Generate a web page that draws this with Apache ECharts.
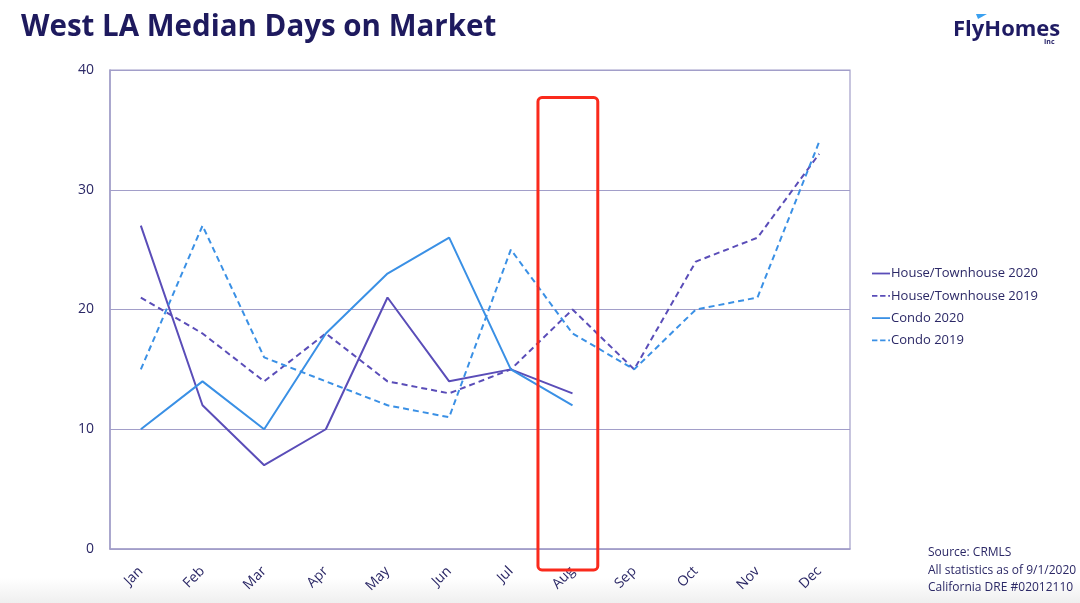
<!DOCTYPE html>
<html><head><meta charset="utf-8">
<script src="https://cdn.jsdelivr.net/npm/echarts@6/dist/echarts.min.js"></script>
<style>html,body{margin:0;padding:0;background:#fff}#c{width:1080px;height:603px}</style>
</head><body><div id="c"></div>
<script>
const months = ['Jan','Feb','Mar','Apr','May','Jun','Jul','Aug','Sep','Oct','Nov','Dec'];
const house2020 = [27,12,7,10,21,14,15,13];
const house2019 = [21,18,14,18,14,13,15,20,15,24,26,33];
const condo2020 = [10,14,10,18,23,26,15,12];
const condo2019 = [15,27,16,14,12,11,25,18,15,20,21,34];
const yTicks = [0,10,20,30,40];
const highlightMonth = 'Aug';

const purple = '#5a4db8';
const blue = '#3a90e5';
const navy = '#2b2866';
const gridC = '#a29ec9';

const solidIcon = 'path://M0,0H20V2H0Z';
const dashIcon = 'path://M0,0H6V2H0Z M9,0H15V2H9Z M18,0H20V2H18Z';

const chart = echarts.init(document.getElementById('c'));
function line(name, data, color, dashed){
  return {
    name, type:'line', data, showSymbol:false, symbol:'none',
    lineStyle:{color, width:2, type: dashed ? [6,4] : 'solid'},
    itemStyle:{color}
  };
}
chart.setOption({
  animation:false,
  title:{text:'West LA Median Days on Market', left:16, top:8,
    textStyle:{fontFamily:'Open Sans', fontWeight:'bold', fontSize:29.5, color:'#1e1a5e'}},
  legend:{orient:'vertical', left:867, top:262, itemGap:9.3, itemWidth:18, itemHeight:2,
    textStyle:{fontFamily:'Open Sans', fontSize:13, color:navy, padding:[0,0,0,-4]},
    data:[
      {name:'House/Townhouse 2020', icon:solidIcon, itemStyle:{color:purple}},
      {name:'House/Townhouse 2019', icon:dashIcon, itemStyle:{color:purple}},
      {name:'Condo 2020', icon:solidIcon, itemStyle:{color:blue}},
      {name:'Condo 2019', icon:dashIcon, itemStyle:{color:blue}}
    ]},
  grid:{left:110, right:230, top:70, bottom:54, show:true, borderColor:gridC, borderWidth:1.2},
  xAxis:{type:'category', data:months, boundaryGap:true,
    axisLine:{lineStyle:{color:gridC, width:1.5}}, axisTick:{show:false},
    axisLabel:{rotate:45, margin:20, fontFamily:'Open Sans', fontSize:14, color:navy}},
  yAxis:{type:'value', min:yTicks[0], max:yTicks[yTicks.length-1], interval:10,
    axisLine:{show:true, lineStyle:{color:gridC, width:1.5}}, axisTick:{show:false},
    axisLabel:{margin:16, fontFamily:'Open Sans', fontSize:14, color:navy},
    splitLine:{lineStyle:{color:gridC, width:1.2}}},
  series:[
    line('House/Townhouse 2020', house2020, purple, false),
    line('House/Townhouse 2019', house2019, purple, true),
    line('Condo 2020', condo2020, blue, false),
    line('Condo 2019', condo2019, blue, true)
  ]
});

// highlight box around the highlighted month, positioned through the axes
const cx = chart.convertToPixel({xAxisIndex:0}, highlightMonth);
const band = chart.convertToPixel({xAxisIndex:0}, months[1]) - chart.convertToPixel({xAxisIndex:0}, months[0]);
const yTop = chart.convertToPixel({yAxisIndex:0}, 37.7);
const yBot = chart.convertToPixel({yAxisIndex:0}, -1.75);
chart.setOption({
  graphic:[
    {type:'rect', z:-10, shape:{x:0, y:578, width:1080, height:25},
      style:{fill:new echarts.graphic.LinearGradient(0,0,0,1,[{offset:0,color:'#ffffff'},{offset:1,color:'#efefef'}])}},
    {type:'text', left:953, top:19, style:{text:'FlyHomes', font:'bold 22px "Open Sans"', fill:'#1f1b63'}},
    {type:'text', left:1044, top:38, style:{text:'Inc', font:'bold 7px "Open Sans"', fill:'#1f1b63'}},
    {type:'polygon', shape:{points:[[976,14],[987,14],[978,19]]}, style:{fill:'#3aa0f0'}},
    {type:'text', left:928, top:544, style:{text:'Source: CRMLS\nAll statistics as of 9/1/2020\nCalifornia DRE #02012110', font:'12px "Open Sans"', lineHeight:17.5, fill:navy}},
    {type:'rect', z:100, shape:{x:cx - band*0.56, y:yTop, width:band*0.97, height:yBot - yTop, r:4},
      style:{fill:'none', stroke:'#fa2a1c', lineWidth:3}}
  ]
});
</script></body></html>
